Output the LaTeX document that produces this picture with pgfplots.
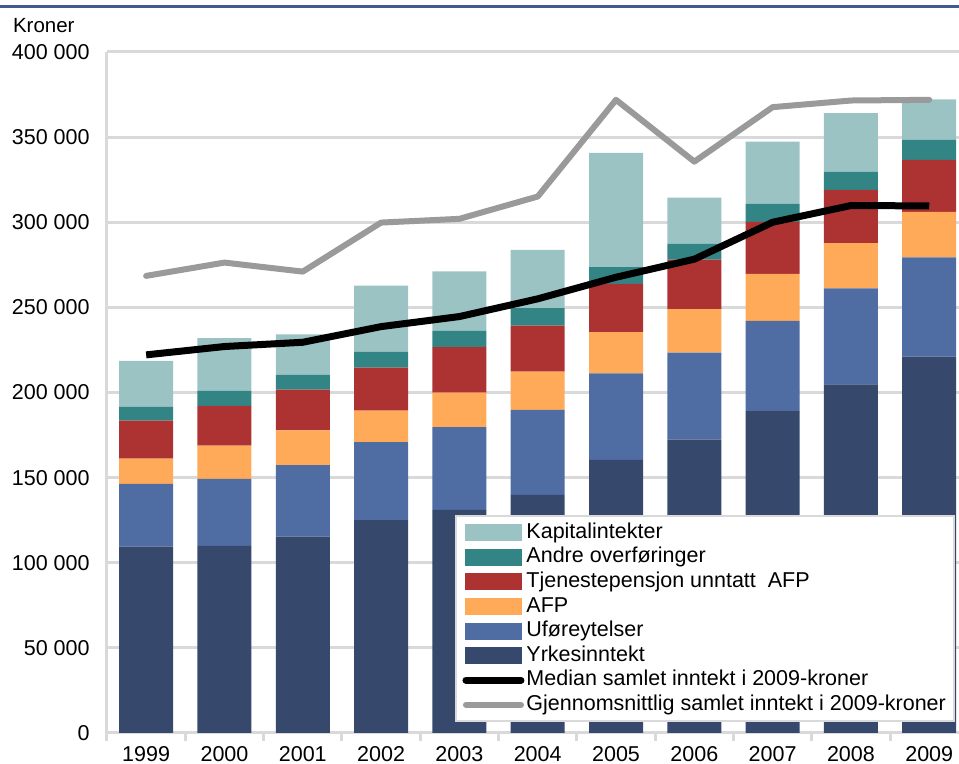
\documentclass[border=0pt]{standalone}
\usepackage{pgfplots}
\pgfplotsset{compat=1.18}
\usepackage{pgfplotstable}
\usepackage{fontspec}
\setmainfont{Liberation Sans}
\definecolor{kap}{HTML}{9CC3C3}
\definecolor{andre}{HTML}{338585}
\definecolor{tjen}{HTML}{AD3333}
\definecolor{afp}{HTML}{FFAA58}
\definecolor{ufore}{HTML}{4F6CA3}
\definecolor{yrk}{HTML}{36486B}
\definecolor{gridc}{HTML}{D9D9D9}
\definecolor{greyline}{HTML}{9A9A9A}
\definecolor{topblue}{HTML}{3F5B8F}

\pgfplotstableread{
yr Y U A T An K
0 109500 36800 14900 22300 8000 27000
1 109900 39300 19600 23300 8800 31000
2 115400 41900 20500 23900 8600 23900
3 125100 45700 18600 25200 9200 39000
4 131000 48600 20300 26700 9600 35000
5 139800 50000 22500 27000 10200 34300
6 160400 50900 24100 28400 9800 67200
7 172300 51100 25500 29200 9200 27200
8 189000 53000 27700 30500 10600 36600
9 204800 56400 26500 31300 10600 34500
10 221100 58200 26800 30500 11800 23700
}\bars

\pgfplotstableread{
yr Med Gj
0 222100 268500
1 227000 276300
2 229500 271000
3 238700 299800
4 244600 302000
5 255000 315100
6 267700 371900
7 278300 335600
8 300000 367600
9 309800 371500
10 309600 371900
}\lines

\pgfplotsset{
  base/.style={scale only axis, width=426pt, height=340.5pt,
    at={(53.5pt,15.5pt)}, anchor=south west,
    xmin=-0.5, xmax=10.38, ymin=0, ymax=400000, enlargelimits=false,
    scaled y ticks=false,
    font=\fontsize{10.75}{12}\selectfont}
}

\begin{document}
\begin{tikzpicture}
\useasboundingbox (0,0) rectangle (479.5pt,382pt);
\begin{axis}[base, ybar stacked, bar width=27pt,
  axis lines*=left, axis line style={draw=gridc, line width=1.5pt},
  ymajorgrids, grid style={draw=gridc, line width=1.5pt},
  ytick={0,50000,100000,150000,200000,250000,300000,350000,400000},
  yticklabels={0,50 000,100 000,150 000,200 000,250 000,300 000,350 000,400 000},
  xtick={0,1,2,3,4,5,6,7,8,9,10},
  xticklabels={1999,2000,2001,2002,2003,2004,2005,2006,2007,2008,2009},
  major tick length=0pt, tick align=outside,
  minor xtick={-0.5,0.5,1.5,2.5,3.5,4.5,5.5,6.5,7.5,8.5,9.5},
  minor tick length=4pt, minor tick style={draw=gridc, line width=1.5pt},
  yticklabel style={anchor=east, inner sep=0pt, xshift=-8.5pt},
  xticklabel style={anchor=north, inner sep=0pt, yshift=-6.5pt},
]
\addplot[fill=yrk, draw=none] table[x=yr, y=Y]{\bars};
\addplot[fill=ufore, draw=none] table[x=yr, y=U]{\bars};
\addplot[fill=afp, draw=none] table[x=yr, y=A]{\bars};
\addplot[fill=tjen, draw=none] table[x=yr, y=T]{\bars};
\addplot[fill=andre, draw=none] table[x=yr, y=An]{\bars};
\addplot[fill=kap, draw=none] table[x=yr, y=K]{\bars};
\end{axis}
\begin{axis}[base, hide axis,
  legend image code/.code={\draw[#1, line cap=round] (0pt,0pt) -- (27.5pt,0pt);},
  legend style={at={(0.409,0.320)}, anchor=north west, draw=gridc, line width=1pt,
    fill=white, font=\fontsize{10.75}{12}\selectfont, row sep=0.7pt,
    inner xsep=3pt, inner ysep=2.5pt,
    nodes={inner sep=1pt, text height=7.6pt, text depth=2pt}},
  legend cell align=left,
]
\addlegendimage{legend image code/.code={\fill[kap] (0pt,-3.75pt) rectangle (27.5pt,3.75pt);}}
\addlegendentry{Kapitalintekter}
\addlegendimage{legend image code/.code={\fill[andre] (0pt,-3.75pt) rectangle (27.5pt,3.75pt);}}
\addlegendentry{Andre overføringer}
\addlegendimage{legend image code/.code={\fill[tjen] (0pt,-3.75pt) rectangle (27.5pt,3.75pt);}}
\addlegendentry{Tjenestepensjon unntatt\ \ AFP}
\addlegendimage{legend image code/.code={\fill[afp] (0pt,-3.75pt) rectangle (27.5pt,3.75pt);}}
\addlegendentry{AFP}
\addlegendimage{legend image code/.code={\fill[ufore] (0pt,-3.75pt) rectangle (27.5pt,3.75pt);}}
\addlegendentry{Uføreytelser}
\addlegendimage{legend image code/.code={\fill[yrk] (0pt,-3.75pt) rectangle (27.5pt,3.75pt);}}
\addlegendentry{Yrkesinntekt}
\addplot[black, line width=3.5pt, line join=round] table[x=yr, y=Med]{\lines};
\addlegendentry{Median samlet inntekt i 2009-kroner}
\addplot[greyline, line width=3pt, line join=round, line cap=round] table[x=yr, y=Gj]{\lines};
\addlegendentry{Gjennomsnittlig samlet inntekt i 2009-kroner}
\end{axis}
\draw[topblue, line width=1.5pt] (0,378.5pt) -- (479.5pt,378.5pt);
\node[anchor=base west, inner sep=0pt, font=\fontsize{10.25}{12}\selectfont] at (6.3pt,365.7pt) {Kroner};
\end{tikzpicture}
\end{document}
